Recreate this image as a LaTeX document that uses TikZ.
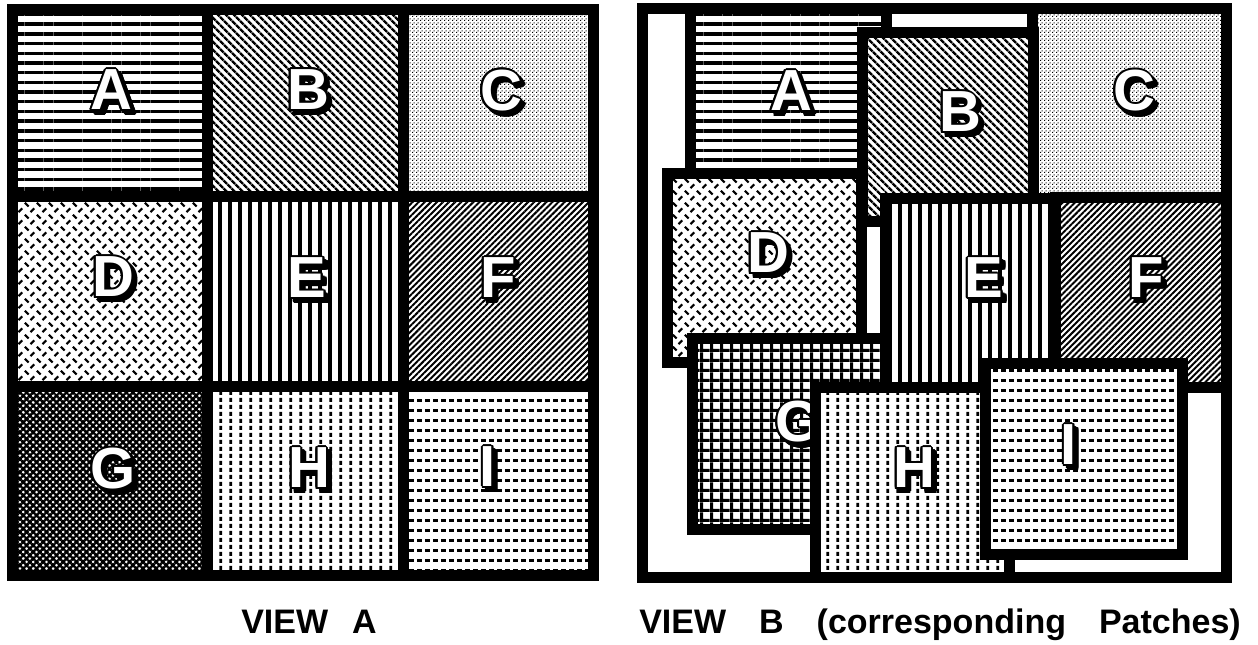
\documentclass[tikz,border=0pt]{standalone}
\usepackage{fontspec}
\setmainfont{Liberation Sans}
\usepackage{contour}
\contourlength{2pt}
\usetikzlibrary{patterns,patterns.meta}

% fill patterns of the patches
\pgfdeclarepatternformonly{diamondplate}{\pgfqpoint{0pt}{0pt}}{\pgfqpoint{12pt}{12pt}}{\pgfqpoint{12pt}{12pt}}{%
  \pgfsetlinewidth{2.2pt}%
  \pgfpathmoveto{\pgfqpoint{1pt}{11pt}}\pgfpathlineto{\pgfqpoint{5pt}{7pt}}%
  \pgfpathmoveto{\pgfqpoint{7pt}{1pt}}\pgfpathlineto{\pgfqpoint{11pt}{5pt}}%
  \pgfusepath{stroke}}
\pgfdeclarepatternformonly{stipple}{\pgfqpoint{0pt}{0pt}}{\pgfqpoint{4pt}{4pt}}{\pgfqpoint{4pt}{4pt}}{%
  \pgfpathrectangle{\pgfqpoint{0pt}{0pt}}{\pgfqpoint{1.3pt}{1.3pt}}%
  \pgfpathrectangle{\pgfqpoint{2pt}{2pt}}{\pgfqpoint{1.3pt}{1.3pt}}%
  \pgfusepath{fill}}
\pgfdeclarepatternformonly{hdashes}{\pgfqpoint{0pt}{0pt}}{\pgfqpoint{8pt}{10pt}}{\pgfqpoint{8pt}{10pt}}{%
  \pgfpathrectangle{\pgfqpoint{1.3pt}{3.5pt}}{\pgfqpoint{5.4pt}{3pt}}%
  \pgfusepath{fill}}
\pgfdeclarepatternformonly{vdashes}{\pgfqpoint{0pt}{0pt}}{\pgfqpoint{10.3pt}{6.7pt}}{\pgfqpoint{10.3pt}{6.7pt}}{%
  \pgfpathrectangle{\pgfqpoint{3.6pt}{1.2pt}}{\pgfqpoint{3pt}{4.2pt}}%
  \pgfusepath{fill}}
\pgfdeclarepatternformonly{squaregrid}{\pgfqpoint{0pt}{0pt}}{\pgfqpoint{10.3pt}{10.3pt}}{\pgfqpoint{10.3pt}{10.3pt}}{%
  \pgfpathrectangle{\pgfqpoint{0pt}{0pt}}{\pgfqpoint{10.3pt}{3.3pt}}%
  \pgfpathrectangle{\pgfqpoint{0pt}{0pt}}{\pgfqpoint{3.3pt}{10.3pt}}%
  \pgfusepath{fill}}

\begin{document}
\begin{tikzpicture}[x=1pt,y=-1pt,
    patch/.style={draw=black,line width=11pt,preaction={fill=white}},
    pA/.style={pattern={Lines[distance=9.7pt,line width=3.4pt]}},
    pB/.style={pattern={Lines[angle=-45,distance=5.4pt,line width=2.6pt]}},
    pC/.style={pattern=stipple},
    pD/.style={pattern=diamondplate},
    pE/.style={pattern={Lines[angle=90,distance=10pt,line width=3.4pt]}},
    pF/.style={pattern={Lines[angle=45,distance=4.3pt,line width=2pt]}},
    pG/.style={pattern={Lines[angle=45,distance=4.7pt,line width=2.4pt]},
      postaction={pattern={Lines[angle=-45,distance=4.7pt,line width=2.4pt]}}},
    pGb/.style={pattern=squaregrid},
    pH/.style={pattern=vdashes},
    pI/.style={pattern=hdashes},
    shade/.style={font=\fontsize{58}{58}\selectfont\bfseries,text=black,inner sep=0pt},
    letter/.style={font=\fontsize{58}{58}\selectfont\bfseries,text=white,inner sep=0pt},
    caption/.style={font=\fontsize{34}{34}\selectfont\bfseries,anchor=base,inner sep=0pt}]
  \useasboundingbox (0,0) rectangle (1258,645);

  % view A: the regular grid
  \foreach \l/\p/\xa/\ya/\xb/\yb/\x/\y in {A/pA/12/9/207/196.5/111.5/91, B/pB/207/9/403.5/196.5/308/90.5,
      C/pC/403.5/9/593/196.5/501/91.5, D/pD/12/196.5/207/386/113/278, E/pE/207/196.5/403.5/386/307/279,
      F/pF/403.5/196.5/593/386/498/279, G/pG/12/386/207/575.5/113/470, H/pH/207/386/403.5/575.5/309/469,
      I/pI/403.5/386/593/575.5/488/468}{
    \path[patch,\p] (\xa,\ya) rectangle (\xb,\yb);
    \node[shade] (sa\l) at (\x+4,\y+4) {\contour{black}{\l}};
    \node[letter] (la\l) at (\x,\y) {\contour{black}{\l}};
  }

  % view B: the corresponding patches, lowest first
  \path[patch] (642.5,8.5) rectangle (1226.5,577.5);
  \foreach \l/\p/\xa/\ya/\xb/\yb/\x/\y in {A/pA/690.5/8.5/886.5/175/791/92, C/pC/1032.5/8.5/1226.5/198.5/1134/92,
      B/pB/862.5/32.5/1033.5/221.5/960/113, D/pD/667.5/173.5/861.5/362.5/768/254,
      G/pGb/692.5/338.5/887.5/529.5/798/423, E/pE/885.5/198.5/1057.5/387.5/984/279,
      F/pF/1055.5/197.5/1226.5/387.5/1146/279, H/pH/815.5/387.5/1009.5/577.5/914/469,
      I/pI/985.5/363.5/1182.5/554.5/1069/446}{
    \path[patch,\p] (\xa,\ya) rectangle (\xb,\yb);
    \node[shade] (sb\l) at (\x+4,\y+4) {\contour{black}{\l}};
    \node[letter] (lb\l) at (\x,\y) {\contour{black}{\l}};
  }
  \draw[line width=11pt] (642.5,8.5) rectangle (1226.5,577.5);

  \node[caption] (capA) at (309,633) {VIEW\hspace{24pt}A};
  \node[caption] (capB) at (940,633) {VIEW\hspace{33pt}B\hspace{33pt}(corresponding\hspace{33pt}Patches)};
\end{tikzpicture}
\end{document}
